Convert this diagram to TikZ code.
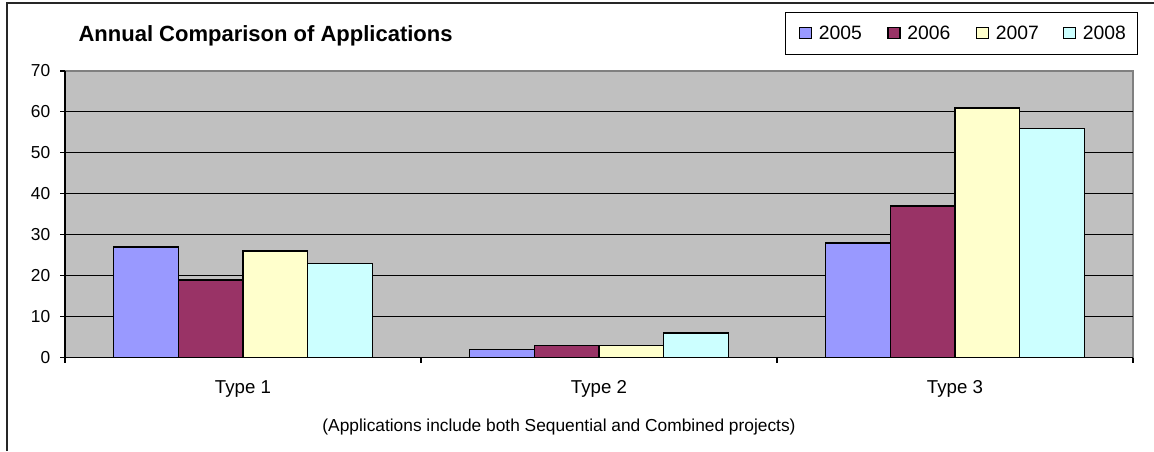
\documentclass[tikz,border=0pt]{standalone}
\usepackage{fontspec}
\setmainfont{Liberation Sans}
\usepackage{xcolor}
\definecolor{bar2005}{RGB}{153, 153, 255}
\definecolor{bar2006}{RGB}{153, 51, 102}
\definecolor{bar2007}{RGB}{255, 255, 204}
\definecolor{bar2008}{RGB}{204, 255, 255}
\definecolor{plotgrey}{RGB}{192, 192, 192}

\begin{document}
\begin{tikzpicture}[x=0.75pt, y=-0.75pt,
    bar/.style={draw=black, line width=1.1pt},
    ticklabel/.style={font=\fontsize{13}{15}\selectfont, anchor=east, inner sep=0pt},
    catlabel/.style={font=\fontsize{14}{17}\selectfont, anchor=base, inner sep=0pt},
    legendlabel/.style={font=\fontsize{14.5}{17}\selectfont, anchor=base west, inner sep=0pt}]
    % Parameter: Nulllinie, Pixel pro Einheit, Balkenbreite, Kategoriebreite
    \def\yz{357.7}
    \def\ys{4.096}
    \def\bw{64.7}
    \def\cw{356}
    \useasboundingbox (0,0) rectangle (1154,451);

    % Äusserer Rahmen (rechts und unten abgeschnitten)
    \draw[black!85, line width=1.2pt] (7,451) -- (7,3) -- (1154,3);

    % Titel
    \node[anchor=base west, inner sep=0pt, font=\bfseries\fontsize{16.5}{19}\selectfont]
        (title) at (78.3,41.7) {Annual Comparison of Applications};

    % Graue Plotfläche mit Gitterlinien
    \fill[plotgrey] (65,71) rectangle (1133,\yz);
    \draw[gray, line width=0.8pt] (65,71) -- (1133,71) -- (1133,\yz);
    \foreach \v in {10,20,...,60}
        \draw[black, line width=0.75pt] (65,{\yz-\v*\ys}) -- (1133,{\yz-\v*\ys});

    % Balken je Kategorie (2005 bis 2008)
    \foreach \c/\a/\b/\d/\e in {0/27/19/26/23, 1/2/3/3/6, 2/28/37/61/56}
        \foreach \v/\col [count=\i from 0] in {\a/bar2005, \b/bar2006, \d/bar2007, \e/bar2008} {
            \pgfmathsetmacro{\xl}{65+\c*\cw+(\cw-4*\bw)/2+\i*\bw}
            \filldraw[bar, fill=\col] (\xl,\yz) rectangle ({\xl+\bw},{\yz-\v*\ys});
        }

    % Achsen mit Teilstrichen
    \draw[black, line width=0.8pt] (65,71) -- (65,\yz) -- (1133,\yz);
    \foreach \v in {0,10,...,70} {
        \draw[black, line width=0.8pt] (60,{\yz-\v*\ys}) -- (65,{\yz-\v*\ys});
        \node[ticklabel] (y\v) at (50.5,{\yz-\v*\ys}) {\v};
    }
    \foreach \c in {0,1,2,3}
        \draw[black, line width=0.8pt] ({65+\c*\cw},\yz) -- ({65+\c*\cw},{\yz+5});

    % Kategorien und Fussnote
    \foreach \c in {1,2,3}
        \node[catlabel] (type\c) at ({65+(\c-0.5)*\cw},393.3) {Type \c};
    \node[anchor=base, inner sep=0pt, font=\fontsize{13}{15}\selectfont]
        (note) at (559,431) {(Applications include both Sequential and Combined projects)};

    % Legende
    \draw[black, line width=0.8pt] (785.7,12.7) rectangle (1137.7,54.3);
    \foreach \yr/\xx in {2005/799.5, 2006/888, 2007/976.5, 2008/1063.5} {
        \filldraw[draw=black, line width=0.8pt, fill=bar\yr] (\xx,27.5) rectangle ++(12,11);
        \node[legendlabel] (leg\yr) at (\xx+19,39) {\yr};
    }
\end{tikzpicture}
\end{document}
